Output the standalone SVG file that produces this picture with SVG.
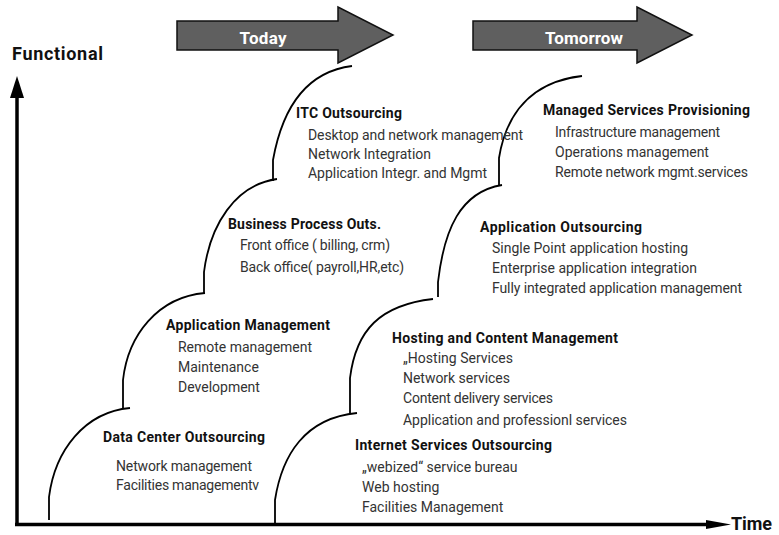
<svg xmlns="http://www.w3.org/2000/svg" width="779" height="535" viewBox="0 0 779 535">
  <style>
    .bg { fill: #ffffff; }
    .banner { fill: #5f5f5f; stroke: #111111; stroke-width: 1.5; stroke-linejoin: miter; }
    .banner-text { font-family: Roboto, "Liberation Sans", sans-serif; font-weight: 700; font-size: 17px; fill: #ffffff; text-anchor: middle; }
    .axis { stroke: #000000; stroke-width: 3.5; fill: none; }
    .axis-head { fill: #000000; }
    .axis-label { font-family: Roboto, "Liberation Sans", sans-serif; font-weight: 700; font-size: 18px; fill: #111111; }
    .step { stroke: #000000; stroke-width: 1.8; fill: none; stroke-linecap: butt; }
    .title { font-family: Roboto, "Liberation Sans", sans-serif; font-weight: 700; font-size: 14px; fill: #111111; }
    .item { font-family: Roboto, "Liberation Sans", sans-serif; font-weight: 400; font-size: 14px; fill: #333333; }
  </style>

  <rect class="bg" x="0" y="0" width="779" height="535"/>

  <!-- Period banners -->
  <g id="today">
    <polygon class="banner" points="177,21 338,21 338,7 393,35 338,63 338,50 177,50"/>
    <text class="banner-text" x="263" y="44" textLength="47">Today</text>
  </g>
  <g id="tomorrow">
    <polygon class="banner" points="473,21 637,21 637,7 692,35 637,63 637,50 473,50"/>
    <text class="banner-text" x="584" y="44" textLength="78">Tomorrow</text>
  </g>

  <!-- Axes -->
  <g id="axes">
    <line class="axis" x1="17" y1="526" x2="17" y2="96"/>
    <polygon class="axis-head" points="17,76 24,98 10,98"/>
    <line class="axis" x1="15" y1="524.5" x2="708" y2="524.5"/>
    <polygon class="axis-head" points="731,524.5 706,520 706,529"/>
    <text class="axis-label" x="12" y="60" textLength="91">Functional</text>
    <text class="axis-label" x="731" y="530" textLength="41">Time</text>
  </g>

  <!-- Staircase outlines -->
  <g id="connectors">
    <path class="step" d="M49,520 V497 C55,450 85,412 130,408"/>
    <path class="step" d="M123,408 V380 C128,335 158,297 205,293"/>
    <path class="step" d="M204,293 V272 C210,225 235,185 277,179"/>
    <path class="step" d="M273,181 V160 C282,110 305,72 352,66"/>

    <path class="step" d="M275,523 V500 C282,455 305,418 357,413"/>
    <path class="step" d="M350,414 V378 C356,330 380,305 433,299"/>
    <path class="step" d="M438,297 V282 C444,230 460,192 502,185"/>
    <path class="step" d="M499,186 V158 C506,115 530,82 582,76"/>
  </g>

  <!-- Today stages -->
  <g id="data-center">
    <text class="title" x="103" y="442" textLength="162">Data Center Outsourcing</text>
    <text class="item" x="116" y="471" textLength="136">Network management</text>
    <text class="item" x="116" y="490" textLength="143">Facilities managementv</text>
  </g>
  <g id="application-management">
    <text class="title" x="166" y="330" textLength="164">Application Management</text>
    <text class="item" x="178" y="352" textLength="134">Remote management</text>
    <text class="item" x="178" y="372">Maintenance</text>
    <text class="item" x="178" y="392">Development</text>
  </g>
  <g id="business-process">
    <text class="title" x="228" y="229" textLength="153">Business Process Outs.</text>
    <text class="item" x="240" y="250" textLength="150">Front office ( billing, crm)</text>
    <text class="item" x="240" y="272" textLength="164">Back office( payroll,HR,etc)</text>
  </g>
  <g id="itc-outsourcing">
    <text class="title" x="296" y="118" textLength="106">ITC Outsourcing</text>
    <text class="item" x="308" y="140" textLength="215">Desktop and network management</text>
    <text class="item" x="308" y="159">Network Integration</text>
    <text class="item" x="308" y="178" textLength="179">Application Integr. and Mgmt</text>
  </g>

  <!-- Tomorrow stages -->
  <g id="internet-services">
    <text class="title" x="355" y="450" textLength="197">Internet Services Outsourcing</text>
    <text class="item" x="362" y="472">„webized“ service bureau</text>
    <text class="item" x="362" y="492">Web hosting</text>
    <text class="item" x="362" y="512">Facilities Management</text>
  </g>
  <g id="hosting-content">
    <text class="title" x="392" y="343" textLength="226">Hosting and Content Management</text>
    <text class="item" x="403" y="363" textLength="110">„Hosting Services</text>
    <text class="item" x="403" y="383" textLength="107">Network services</text>
    <text class="item" x="403" y="403" textLength="150">Content delivery services</text>
    <text class="item" x="403" y="425" textLength="224">Application and professionl services</text>
  </g>
  <g id="application-outsourcing">
    <text class="title" x="480" y="232" textLength="162">Application Outsourcing</text>
    <text class="item" x="492" y="253" textLength="196">Single Point application hosting</text>
    <text class="item" x="492" y="273" textLength="205">Enterprise application integration</text>
    <text class="item" x="492" y="293" textLength="250">Fully integrated application management</text>
  </g>
  <g id="managed-services">
    <text class="title" x="543" y="115" textLength="207">Managed Services Provisioning</text>
    <text class="item" x="555" y="137" textLength="165">Infrastructure management</text>
    <text class="item" x="555" y="157">Operations management</text>
    <text class="item" x="555" y="177" textLength="193">Remote network mgmt.services</text>
  </g>
</svg>
